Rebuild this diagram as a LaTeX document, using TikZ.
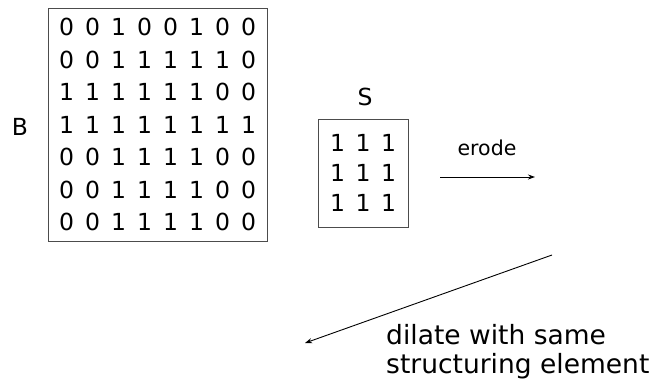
\documentclass[tikz,border=0pt]{standalone}
\usepackage{fontspec}
\setmainfont{DejaVu Sans}
\usetikzlibrary{matrix,arrows.meta}
\begin{document}
\begin{tikzpicture}[x=1pt,y=-1pt,
  mat/.style={draw=black!70,line width=0.8pt,matrix of nodes,
    nodes={inner sep=0pt,anchor=center,font=\fontsize{23.5}{23.5}\selectfont},
    column sep=0pt,row sep=0pt},
  lbl/.style={font=\fontsize{23.5}{25}\selectfont,inner sep=0pt},
  arr/.style={line width=0.9pt,-{Stealth[length=7pt,width=5pt]}}]
\useasboundingbox (0,0) rectangle (653,383);
\matrix (B) [mat, inner xsep=5.5pt, inner ysep=2.75pt,
  nodes={minimum width=26pt,minimum height=32.5pt}] at (157.5,124.5) {
0 & 0 & 1 & 0 & 0 & 1 & 0 & 0 \\
0 & 0 & 1 & 1 & 1 & 1 & 1 & 0 \\
1 & 1 & 1 & 1 & 1 & 1 & 0 & 0 \\
1 & 1 & 1 & 1 & 1 & 1 & 1 & 1 \\
0 & 0 & 1 & 1 & 1 & 1 & 0 & 0 \\
0 & 0 & 1 & 1 & 1 & 1 & 0 & 0 \\
0 & 0 & 1 & 1 & 1 & 1 & 0 & 0 \\
};
\node[lbl] (Blbl) at (20,127) {B};
\matrix (S) [mat, inner xsep=6.75pt, inner ysep=9pt,
  nodes={minimum width=25.5pt,minimum height=30pt}] at (363,173) {
1 & 1 & 1 \\
1 & 1 & 1 \\
1 & 1 & 1 \\
};
\node[lbl] (Slbl) at (365,97) {S};
\coordinate (e1) at (440,177);
\coordinate (e2) at (535,177);
\draw[arr] (e1) -- (e2);
\node[font=\fontsize{20.5}{20.5}\selectfont,inner sep=0pt] (erode) at (487,148) {erode};
\coordinate (d1) at (552,255);
\coordinate (d2) at (305,343);
\draw[arr] (d1) -- (d2);
\node[font=\fontsize{26.5}{29}\selectfont,inner sep=0pt,align=left,anchor=west] (dil) at (386,352) {dilate with same\\structuring element};
\end{tikzpicture}
\end{document}
